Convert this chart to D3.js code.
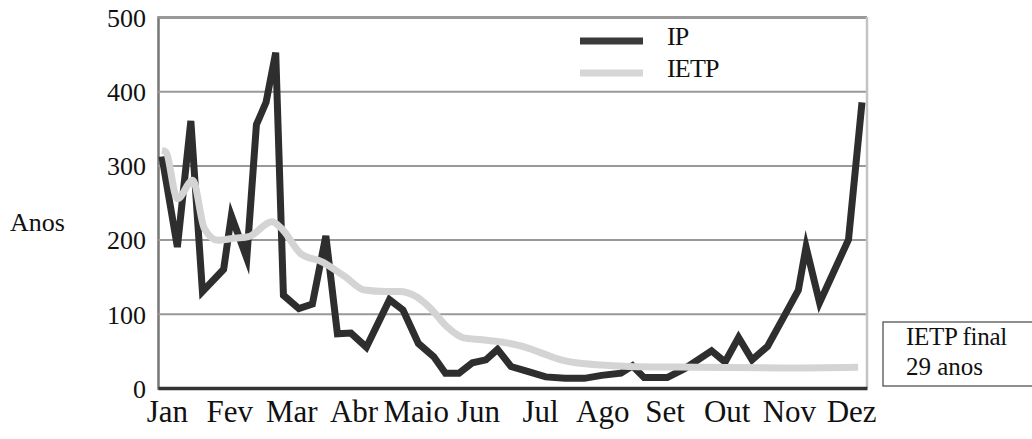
<!DOCTYPE html>
<html>
<head>
<meta charset="utf-8">
<script src="https://cdn.jsdelivr.net/npm/d3@7"></script>
<style>
  html, body { margin: 0; padding: 0; background: #fff; }
  svg { display: block; }
  text { font-family: "Liberation Serif", "Times New Roman", serif; fill: #111; }
</style>
</head>
<body>
<svg id="chart" width="1032" height="439"></svg>
<script>
// ---- data ----
const months = ["Jan","Fev","Mar","Abr","Maio","Jun","Jul","Ago","Set","Out","Nov","Dez"];
const yTicks = [0, 100, 200, 300, 400, 500];
// IP series: day of year, value (anos)
const ipDays = [2,10,17,23,34,38,46,51,56,61,65,73,80,87,93,100,108,120,127,135,143,149,156,163,170,176,183,192,201,211,221,230,240,246,252,264,273,287,294,301,308,316,327,332,336,343,358,365];
const ipValues = [312,190,360,130,160,232,175,355,385,452,125,107,113,205,73,74,55,119,105,60,42,20,20,34,38,52,29,22,15,13,13,17,20,30,14,14,26,50,35,68,38,56,108,132,190,115,200,385];
// IETP series
const ietpDays = [2,4,10,18,24,31,40,47,59,64,74,85,97,107,118,125,134,141,150,158,168,178,189,199,209,220,230,244,281,323,363];
const ietpValues = [320,318,255,280,215,199,202,204,224,215,181,170,150,132,130,130,123,108,82,68,65,62,56,47,38,33,31,29,28,27,28];
const seriesNames = ["IP", "IETP"];
const yLabel = "Anos";
const noteLines = ["IETP final", "29 anos"];

// ---- layout ----
const svg = d3.select("#chart");
const L = 158, R = 867, T = 17, B = 388;
const x = d3.scaleLinear().domain([1, 365]).range([160, 862]);
const y = d3.scaleLinear().domain([0, 500]).range([B, T]);
const xm = d3.scalePoint().domain(months).range([L, R]).padding(0.2).align(0.36);

// gridlines + y labels
const yAxis = svg.append("g").attr("transform", `translate(${L},0)`)
  .call(d3.axisLeft(y).tickValues(yTicks).tickSize(-(R - L)).tickPadding(12));
yAxis.select(".domain").attr("stroke", "#777").attr("stroke-width", 2.5);
yAxis.selectAll(".tick line").attr("stroke", "#999").attr("stroke-width", 2)
  .attr("opacity", d => d === 0 ? 0 : 1);
yAxis.selectAll(".tick text")
  .style("font-family", '"Liberation Serif", serif').style("font-size", "26px")
  .attr("fill", "#111").attr("dy", "0.36em");

// right border
svg.append("line").attr("x1", R).attr("x2", R).attr("y1", T).attr("y2", B)
  .attr("stroke", "#c4c4c4").attr("stroke-width", 2.5);

// lines
const lineIP = d3.line().x(d => x(d[0])).y(d => y(d[1]));
svg.append("path").datum(ipDays.map((d, i) => [d, ipValues[i]]))
  .attr("d", lineIP).attr("fill", "none").attr("stroke", "#2e2e2e")
  .attr("stroke-width", 7).attr("stroke-linejoin", "miter").attr("stroke-miterlimit", 6);
svg.append("path").datum(ietpDays.map((d, i) => [d, ietpValues[i]]))
  .attr("d", d3.line().curve(d3.curveMonotoneX).x(d => x(d[0])).y(d => y(d[1])))
  .attr("fill", "none").attr("stroke", "#d4d4d4")
  .attr("stroke-width", 7).attr("stroke-linejoin", "round");

// bottom axis
const xAxis = svg.append("g").attr("transform", `translate(0,${B})`)
  .call(d3.axisBottom(xm).tickSize(0).tickSizeOuter(0).tickPadding(34));
xAxis.select(".domain").attr("stroke", "#333").attr("stroke-width", 3.5);
xAxis.selectAll(".tick text")
  .style("font-family", '"Liberation Serif", serif').style("font-size", "31px")
  .attr("fill", "#111").attr("dy", "0");

// y label
svg.append("text").attr("x", 10).attr("y", 231).style("font-size", "26px").text(yLabel);

// legend
const legColors = ["#3a3a3a", "#d6d6d6"];
seriesNames.forEach((n, i) => {
  const ly = 41 + i * 32;
  svg.append("line").attr("x1", 580).attr("x2", 643).attr("y1", ly).attr("y2", ly)
    .attr("stroke", legColors[i]).attr("stroke-width", 7);
  svg.append("text").attr("x", 667).attr("y", ly + 4).style("font-size", "26px")
    .style("letter-spacing", "-0.8px").text(n);
});

// note box
svg.append("rect").attr("x", 883).attr("y", 322).attr("width", 160).attr("height", 64)
  .attr("fill", "#fff").attr("stroke", "#444").attr("stroke-width", 1.2);
noteLines.forEach((t, i) => {
  svg.append("text").attr("x", 906).attr("y", 345 + i * 30).style("font-size", "25px")
    .style("letter-spacing", i === 0 ? "-0.3px" : "0px").text(t);
});
</script>
</body>
</html>
